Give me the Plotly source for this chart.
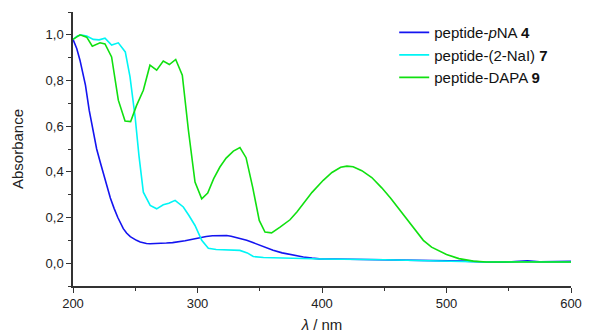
import plotly.graph_objects as go

# peptide-pNA 4
x_pna = [200, 203, 205.6, 208, 210, 213, 216.3, 219, 222, 225, 227, 230, 233, 236, 240.4, 243, 246, 248.5, 251, 254, 256, 259, 261.8, 266, 270, 275, 280, 285, 290, 296, 302, 307, 312, 318, 323.4, 327, 331, 335, 339.5, 345, 350, 355, 360.7, 368, 376.9, 385, 392, 398, 410, 420, 435, 450, 470, 485, 500, 515, 530, 545, 555, 565, 575, 590, 600]
y_pna = [0.98, 0.94, 0.889, 0.83, 0.78, 0.67, 0.567, 0.5, 0.44, 0.38, 0.333, 0.285, 0.24, 0.2, 0.151, 0.132, 0.116, 0.107, 0.10, 0.093, 0.089, 0.086, 0.085, 0.085, 0.086, 0.088, 0.09, 0.093, 0.098, 0.105, 0.112, 0.117, 0.12, 0.121, 0.121, 0.118, 0.113, 0.107, 0.10, 0.089, 0.078, 0.067, 0.057, 0.045, 0.034, 0.027, 0.022, 0.019, 0.018, 0.017, 0.016, 0.016, 0.015, 0.014, 0.012, 0.009, 0.005, 0.004, 0.007, 0.01, 0.006, 0.007, 0.008]

# peptide-(2-NaI) 7
x_nal = [200, 203.5, 207, 211, 216.3, 221, 225.7, 231, 236.4, 242, 245.8, 249.9, 253, 256.5, 262, 267.2, 272.5, 277, 282, 288.6, 293, 298, 303.4, 308.7, 315, 323.4, 334, 340, 344.8, 353, 375, 400, 450, 500, 530, 560, 600]
y_nal = [0.98, 0.995, 0.999, 0.995, 0.98, 0.978, 0.985, 0.955, 0.965, 0.925, 0.816, 0.64, 0.47, 0.311, 0.253, 0.238, 0.256, 0.262, 0.275, 0.246, 0.21, 0.165, 0.10, 0.065, 0.06, 0.059, 0.056, 0.045, 0.029, 0.025, 0.022, 0.018, 0.015, 0.01, 0.005, 0.006, 0.005]

# peptide-DAPA 9
x_dapa = [200, 205.6, 211, 215.5, 221.7, 225.7, 231, 236.4, 241.8, 246.3, 251, 256.5, 261.8, 267.2, 272.5, 277.4, 282.5, 287.8, 292.7, 298, 303.4, 308.2, 313, 318, 323, 328.8, 334.1, 339, 344.3, 349.6, 354.2, 359.5, 366.3, 374.3, 380, 385, 392, 401, 408, 415, 420, 425, 432, 440, 448, 455, 462.7, 470, 477, 481.4, 488, 495, 500, 510, 521.5, 532, 560, 600]
y_dapa = [0.98, 1.0, 0.99, 0.95, 0.965, 0.96, 0.903, 0.714, 0.623, 0.62, 0.69, 0.757, 0.867, 0.845, 0.885, 0.87, 0.892, 0.823, 0.582, 0.355, 0.282, 0.307, 0.37, 0.421, 0.46, 0.491, 0.506, 0.462, 0.333, 0.187, 0.136, 0.133, 0.158, 0.19, 0.225, 0.26, 0.31, 0.363, 0.397, 0.42, 0.425, 0.422, 0.405, 0.375, 0.33, 0.285, 0.231, 0.18, 0.13, 0.10, 0.07, 0.05, 0.038, 0.02, 0.009, 0.005, 0.004, 0.005]

names = ["peptide-<i>p</i>NA <b>4</b>", "peptide-(2-NaI) <b>7</b>", "peptide-DAPA <b>9</b>"]
colors = ["#1414f0", "#00f5f5", "#10e010"]

FONT = "Liberation Sans, Arial"
fig = go.Figure()
for xs, ys, nm, c in zip([x_pna, x_nal, x_dapa], [y_pna, y_nal, y_dapa], names, colors):
    fig.add_trace(go.Scatter(x=xs, y=ys, mode="lines", name=nm,
                             line=dict(color=c, width=1.6)))

axis_common = dict(showline=True, linecolor="#333333", linewidth=1.5, ticks="outside",
                   tickcolor="#333333", ticklen=5, tickwidth=1.2, showgrid=False, zeroline=False,
                   automargin=False,
                   tickfont=dict(family=FONT, size=13, color="#222"))
# the page body has an 8px default margin, so the figure is sized/offset to compensate
fig.update_layout(
    width=589, height=325,
    margin=dict(l=65, r=26, t=4, b=47),
    plot_bgcolor="white", paper_bgcolor="white",
    separators=",.",
    showlegend=True,
    legend=dict(x=0.645, y=0.985, xanchor="left", yanchor="top", bgcolor="rgba(0,0,0,0)",
                font=dict(family=FONT, size=15, color="#111"),
                tracegroupgap=0, itemwidth=30),
    xaxis=dict(range=[200, 600], dtick=100, tick0=200,
               minor=dict(dtick=50, tick0=200, ticks="outside", ticklen=3, tickcolor="#333333"),
               title=dict(text="<i>λ</i> / nm", font=dict(family=FONT, size=15, color="#222"), standoff=9),
               **axis_common),
    yaxis=dict(range=[-0.1, 1.1], dtick=0.2, tick0=0, tickformat=".1f",
               minor=dict(dtick=0.1, tick0=0, ticks="outside", ticklen=3, tickcolor="#333333"),
               title=dict(text="Absorbance", font=dict(family=FONT, size=15, color="#222"), standoff=18),
               **axis_common),
)
fig.write_html("out.html")
